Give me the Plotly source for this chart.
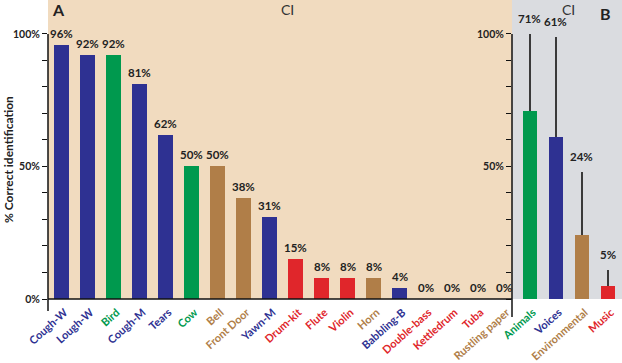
import plotly.graph_objects as go

# ---------------- data ----------------
categories_a = ["Cough-W", "Lough-W", "Bird", "Cough-M", "Tears", "Cow", "Bell",
                "Front Door", "Yawn-M", "Drum-kit", "Flute", "Violin", "Horn",
                "Babbling-B", "Double-bass", "Kettledrum", "Tuba", "Rustling paper"]
values_a = [96, 92, 92, 81, 62, 50, 50, 38, 31, 15, 8, 8, 8, 4, 0, 0, 0, 0]
groups_a = ["voice", "voice", "animal", "voice", "voice", "animal", "env",
            "env", "voice", "music", "music", "music", "env",
            "voice", "music", "music", "music", "env"]

categories_b = ["Animals", "Voices", "Environmental", "Music"]
values_b = [71, 61, 24, 5]
ci_upper_b = [100, 99, 48, 11]
groups_b = ["animal", "voice", "env", "music"]

y_tick_vals = [0, 10, 20, 30, 40, 50, 60, 70, 80, 90, 100]
y_tick_labels_a = ["0%", "", "", "", "", "50%", "", "", "", "", "100%"]
y_tick_labels_b = ["", "", "", "", "", "50%", "", "", "", "", "100%"]

# ---------------- styles ----------------
group_colors = {"voice": "#2E3192", "animal": "#00994E", "env": "#B07E48", "music": "#E0262B"}
TAN = "#F1DBBF"
GRAY = "#DADCE0"
FONT = "Lato"

W, H = 622, 363
ML, MR, MT, MB = 48, 0, 0, 64
plot_w = W - ML - MR
plot_h = H - MT - MB
A_END = 464 / plot_w
YMAX = 112.8

colors_a = [group_colors[g] for g in groups_a]
colors_b = [group_colors[g] for g in groups_b]

fig = go.Figure()

fig.add_trace(go.Bar(x=categories_a, y=values_a, marker=dict(color=colors_a, line=dict(width=0)),
                     width=0.57, xaxis="x", yaxis="y", showlegend=False, hoverinfo="x+y"))

fig.add_trace(go.Bar(x=categories_b, y=values_b, marker=dict(color=colors_b, line=dict(width=0)),
                     width=0.57, xaxis="x2", yaxis="y2", showlegend=False,
                     error_y=dict(type="data", symmetric=False,
                                  array=[u - v for u, v in zip(ci_upper_b, values_b)],
                                  arrayminus=[0] * len(values_b),
                                  width=0, thickness=1.5, color="#3a3a3a")))

ticktext_a = [f'<span style="color:{c}">{n}</span>' for n, c in zip(categories_a, colors_a)]
ticktext_b = [f'<span style="color:{c}">{n}</span>' for n, c in zip(categories_b, colors_b)]

axis_common = dict(showgrid=False, zeroline=False, showline=False, automargin=False)
xfont = dict(family=FONT, size=11, weight="bold")
yfont = dict(family=FONT, size=10.5, weight="bold", color="#222")

fig.update_layout(
    width=W, height=H,
    margin=dict(l=ML, r=MR, t=MT, b=MB, autoexpand=False),
    paper_bgcolor="white", plot_bgcolor="rgba(0,0,0,0)",
    font=dict(family=FONT, color="#222"),
    bargap=0,
    xaxis=dict(domain=[0, A_END], type="category", range=[-0.53, 17.32],
               tickvals=categories_a, ticktext=ticktext_a, tickangle=-42,
               ticklabelstandoff=4, ticklabelshift=3,
               tickfont=xfont, ticks="", anchor="y", **axis_common),
    xaxis2=dict(domain=[A_END, 1], type="category", range=[-0.69, 3.54],
                tickvals=categories_b, ticktext=ticktext_b, tickangle=-42,
                ticklabelstandoff=4, ticklabelshift=3,
                tickfont=xfont, ticks="", anchor="y2", **axis_common),
    yaxis=dict(domain=[0, 1], range=[0, YMAX], tickvals=y_tick_vals, ticktext=y_tick_labels_a,
               ticks="outside", ticklen=5, tickwidth=1, tickcolor="#111",
               tickfont=yfont, anchor="x", **axis_common),
    yaxis2=dict(domain=[0, 1], range=[0, YMAX], tickvals=y_tick_vals, ticktext=y_tick_labels_b,
                ticks="outside", ticklen=5, tickwidth=1, tickcolor="#111",
                tickfont=yfont, anchor="x2", **axis_common),
)

ytop = 100 / YMAX
shapes = [
    dict(type="rect", xref="paper", yref="paper", x0=0, x1=A_END, y0=0, y1=1,
         fillcolor=TAN, line=dict(width=0), layer="below"),
    dict(type="rect", xref="paper", yref="paper", x0=A_END, x1=1, y0=0, y1=1,
         fillcolor=GRAY, line=dict(width=0), layer="below"),
    dict(type="line", xref="paper", yref="paper", x0=0, x1=0, y0=-12 / plot_h, y1=ytop,
         line=dict(color="#111", width=1.5)),
    dict(type="line", xref="paper", yref="paper", x0=0, x1=A_END, y0=0, y1=0,
         line=dict(color="#111", width=1.5)),
    dict(type="line", xref="paper", yref="paper", x0=A_END, x1=A_END, y0=-18 / plot_h, y1=ytop,
         line=dict(color="#111", width=1.5)),
]
fig.update_layout(shapes=shapes)

label_font = dict(family=FONT, size=11.5, color="#222")
annotations = []
for cat, v in zip(categories_a, values_a):
    annotations.append(dict(text=f"<b>{v}%</b>", x=cat, y=v, xref="x", yref="y",
                            xanchor="center", yanchor="bottom", yshift=3, showarrow=False,
                            font=label_font))
for cat, v, u in zip(categories_b, values_b, ci_upper_b):
    annotations.append(dict(text=f"<b>{v}%</b>", x=cat, y=u, xref="x2", yref="y2",
                            xanchor="center", yanchor="bottom", yshift=7, showarrow=False,
                            font=label_font))

annotations += [
    dict(text="<b>A</b>", xref="paper", yref="paper", x=10 / plot_w, y=1 - 10 / plot_h,
         xanchor="center", yanchor="middle", showarrow=False, font=dict(family=FONT, size=16, color="#222")),
    dict(text="CI", xref="paper", yref="paper", x=(287 - ML) / plot_w, y=1 - 10 / plot_h,
         xanchor="center", yanchor="middle", showarrow=False, font=dict(family=FONT, size=14, color="#333")),
    dict(text="CI", xref="paper", yref="paper", x=(568 - ML) / plot_w, y=1 - 10 / plot_h,
         xanchor="center", yanchor="middle", showarrow=False, font=dict(family=FONT, size=14, color="#333")),
    dict(text="<b>B</b>", xref="paper", yref="paper", x=(605 - ML) / plot_w, y=1 - 14 / plot_h,
         xanchor="center", yanchor="middle", showarrow=False, font=dict(family=FONT, size=16, color="#222")),
    dict(text="<b>% Correct identification</b>", xref="paper", yref="paper",
         x=-(ML - 8) / plot_w, y=1 - 160 / plot_h, textangle=-90,
         xanchor="center", yanchor="middle", showarrow=False, font=dict(family=FONT, size=12, color="#222")),
]
fig.update_layout(annotations=annotations)

fig.write_html("out.html", config={"displayModeBar": False},
               post_script="document.body.style.margin='0';document.body.style.padding='0';")
